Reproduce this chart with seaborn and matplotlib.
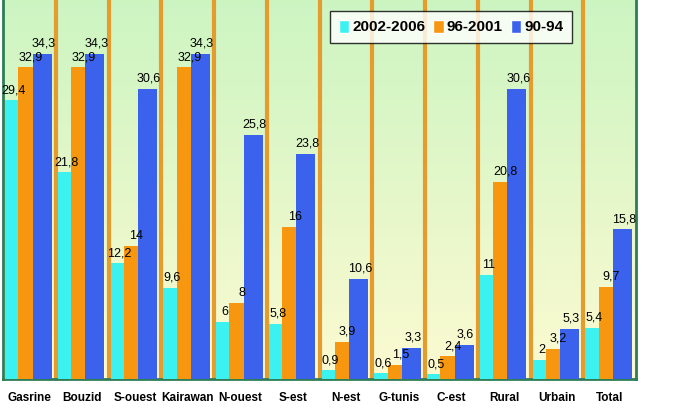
import numpy as np
import pandas as pd
import seaborn as sns
import matplotlib.pyplot as plt

regions = ["Gasrine", "Bouzid", "S-ouest", "Kairawan", "N-ouest", "S-est",
           "N-est", "G-tunis", "C-est", "Rural", "Urbain", "Total"]
periods = ["2002-2006", "96-2001", "90-94"]
v_2002_2006 = [29.4, 21.8, 12.2, 9.6, 6, 5.8, 0.9, 0.6, 0.5, 11, 2, 5.4]
v_96_2001 = [32.9, 32.9, 14, 32.9, 8, 16, 3.9, 1.5, 2.4, 20.8, 3.2, 9.7]
v_90_94 = [34.3, 34.3, 30.6, 34.3, 25.8, 23.8, 10.6, 3.3, 3.6, 30.6, 5.3, 15.8]
colors = ["#3CF2F0", "#F7960F", "#3A62EC"]

df = pd.DataFrame({
    "region": regions * 3,
    "period": [periods[0]] * 12 + [periods[1]] * 12 + [periods[2]] * 12,
    "value": v_2002_2006 + v_96_2001 + v_90_94,
})

sns.set_style("white")
plt.rcParams["font.family"] = ["Liberation Sans", "DejaVu Sans"]

fig = plt.figure(figsize=(6.83, 4.09), dpi=100)
ax = fig.add_axes([0.0044, 0.0733, 0.927, 0.9267])

# gradient background: light green at top to pale yellow at bottom
grad = np.linspace(0, 1, 256)
top = np.array([0.80, 0.96, 0.76])
bot = np.array([0.99, 0.98, 0.82])
img = (top[None, :] * (1 - grad)[:, None] + bot[None, :] * grad[:, None]).reshape(256, 1, 3)
ax.imshow(img, extent=[-0.5, 11.5, 0, 40], aspect="auto", zorder=0, origin="upper")

sns.barplot(data=df, x="region", y="value", hue="period", palette=colors,
            width=0.88, saturation=1, ax=ax, zorder=3, legend=True)

# excel-like bar widths: blue a bit wider than the others
widths = [0.25, 0.27, 0.36]
offsets = [-0.46, -0.21, 0.06]
label_shift = [1.5, 4, 1]
for k, cont in enumerate(ax.containers):
    for i, bar in enumerate(cont):
        bar.set_edgecolor("none")
        bar.set_x(i + offsets[k])
        bar.set_width(widths[k])
    labels = [("%g" % b.get_height()).replace(".", ",") for b in cont]
    texts = ax.bar_label(cont, labels=labels, padding=3, fontsize=9,
                         color="black", zorder=5)
    for t in texts:
        t.xyann = (label_shift[k], 3)

ax.set_xlim(-0.5, 11.5)
ax.set_ylim(0, 40)
ax.set_yticks([])
ax.set_xlabel("")
ax.set_ylabel("")

for b in np.arange(0.5, 11, 1):
    ax.axvline(b, color="#E59C2C", lw=3, zorder=2)

ax.set_xticks(np.arange(-0.5, 12, 1), minor=True)
ax.tick_params(axis="x", which="minor", length=5, color="#2E6B4A", width=1.5, direction="out")
ax.tick_params(axis="x", which="major", length=0, pad=9)
for lab in ax.get_xticklabels():
    lab.set_fontweight("bold")
    lab.set_fontsize(8.5)
    lab.set_color("black")

for side in ["left", "right", "bottom"]:
    ax.spines[side].set_color("#2E7D55")
    ax.spines[side].set_linewidth(2)
ax.spines["top"].set_visible(False)

leg = ax.legend(loc="upper left", bbox_to_anchor=(0.505, 0.99), ncol=3,
                frameon=True, fancybox=False, edgecolor="black",
                handlelength=0.7, handleheight=0.9, handletextpad=0.2,
                columnspacing=0.5, borderpad=0.55,
                prop={"weight": "bold", "size": 11})
leg.get_frame().set_linewidth(1)
leg.set_zorder(10)
for t in leg.get_texts():
    t.set_color("black")

fig.savefig("out.png", dpi=100)
